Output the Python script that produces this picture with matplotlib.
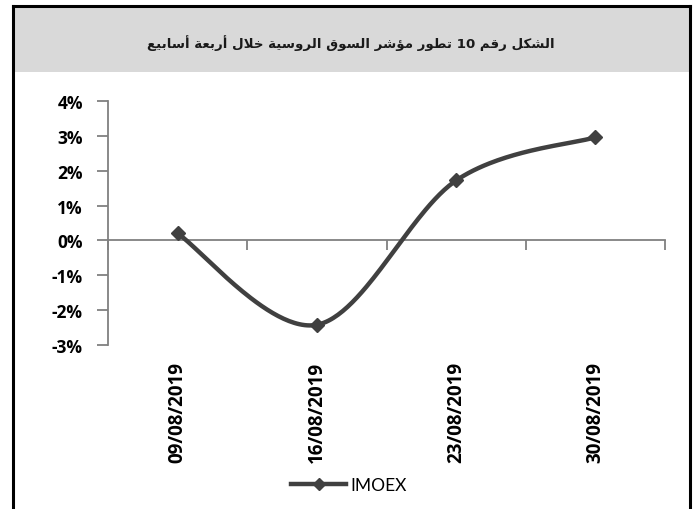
import numpy as np
import matplotlib
matplotlib.use("Agg")
import matplotlib.pyplot as plt
from matplotlib.lines import Line2D
from matplotlib.patches import Rectangle

# ---------------- data ----------------
dates = ["09/08/2019", "16/08/2019", "23/08/2019", "30/08/2019"]
imoex = [0.2, -2.42, 1.72, 2.96]          # percent
yticks = [-3, -2, -1, 0, 1, 2, 3, 4]
series_name = "IMOEX"
title = "الشكل رقم 10 تطور مؤشر السوق الروسية خلال أربعة أسابيع"

# ---------------- simple Arabic shaping ----------------
FORMS = {  # isolated, final, initial, medial
    'ا': ('\uFE8D', '\uFE8E', None, None),
    'أ': ('\uFE83', '\uFE84', None, None),
    'ب': ('\uFE8F', '\uFE90', '\uFE91', '\uFE92'),
    'ة': ('\uFE93', '\uFE94', None, None),
    'ت': ('\uFE95', '\uFE96', '\uFE97', '\uFE98'),
    'خ': ('\uFEA5', '\uFEA6', '\uFEA7', '\uFEA8'),
    'ر': ('\uFEAD', '\uFEAE', None, None),
    'س': ('\uFEB1', '\uFEB2', '\uFEB3', '\uFEB4'),
    'ش': ('\uFEB5', '\uFEB6', '\uFEB7', '\uFEB8'),
    'ط': ('\uFEC1', '\uFEC2', '\uFEC3', '\uFEC4'),
    'ع': ('\uFEC9', '\uFECA', '\uFECB', '\uFECC'),
    'ق': ('\uFED5', '\uFED6', '\uFED7', '\uFED8'),
    'ك': ('\uFED9', '\uFEDA', '\uFEDB', '\uFEDC'),
    'ل': ('\uFEDD', '\uFEDE', '\uFEDF', '\uFEE0'),
    'م': ('\uFEE1', '\uFEE2', '\uFEE3', '\uFEE4'),
    'و': ('\uFEED', '\uFEEE', None, None),
    'ؤ': ('\uFE85', '\uFE86', None, None),
    'ي': ('\uFEF1', '\uFEF2', '\uFEF3', '\uFEF4'),
}
LAMALEF = {'ا': ('\uFEFB', '\uFEFC'), 'أ': ('\uFEF7', '\uFEF8')}


def shape_word(w):
    units = []
    i = 0
    while i < len(w):
        if w[i] == 'ل' and i + 1 < len(w) and w[i + 1] in LAMALEF:
            units.append(('LA', w[i + 1]))
            i += 2
        else:
            units.append(('C', w[i]))
            i += 1

    def joins_next(u):
        if u[0] == 'LA':
            return False
        f = FORMS.get(u[1])
        return f is not None and f[2] is not None

    def joins_prev(u):
        return u[0] == 'LA' or u[1] in FORMS

    out = []
    for k, u in enumerate(units):
        prev_j = k > 0 and joins_next(units[k - 1]) and joins_prev(u)
        next_j = k + 1 < len(units) and joins_next(u) and joins_prev(units[k + 1])
        if u[0] == 'LA':
            out.append(LAMALEF[u[1]][1 if prev_j else 0])
            continue
        f = FORMS.get(u[1])
        if f is None:
            out.append(u[1])
            continue
        if prev_j and next_j:
            out.append(f[3])
        elif prev_j:
            out.append(f[1])
        elif next_j:
            out.append(f[2])
        else:
            out.append(f[0])
    return ''.join(out)


def visual(s):
    words = s.split(' ')
    res = []
    for w in reversed(words):
        if w.isdigit():
            res.append(w)
        else:
            res.append(shape_word(w)[::-1])
    return ' '.join(res)


# ---------------- figure ----------------
W, H = 696, 510
fig = plt.figure(figsize=(W / 100, H / 100), dpi=100)

def fx(px):
    return px / W

def fy(py):
    return 1 - py / H

fig.patches.append(Rectangle((fx(14), fy(73)), fx(676), fy(8) - fy(73),
                             transform=fig.transFigure, facecolor="#D9D9D9",
                             edgecolor="none", zorder=0))
for xs_, ys_ in [((13, 13), (7, 512)), ((690, 690), (7, 512)), ((13, 690), (7, 7))]:
    fig.add_artist(Line2D([fx(xs_[0]), fx(xs_[1])], [fy(ys_[0]), fy(ys_[1])],
                          transform=fig.transFigure, color="black", lw=2.2,
                          solid_capstyle="projecting"))

fig.text(fx(351), fy(43), visual(title), ha="center", va="center",
         fontsize=9.6, fontweight="bold", family="DejaVu Sans", color="#1a1a1a")

ax = fig.add_axes([fx(108), fy(346), fx(665) - fx(108), fy(102) - fy(346)])
ax.set_xlim(-0.5, len(dates) - 0.5)
ax.set_ylim(yticks[0], yticks[-1])
ax.patch.set_alpha(0)

axis_col = "#808080"
for s in ["top", "right"]:
    ax.spines[s].set_visible(False)
ax.spines["left"].set_color(axis_col)
ax.spines["left"].set_linewidth(1.3)
ax.spines["bottom"].set_position(("data", 0))
ax.spines["bottom"].set_color(axis_col)
ax.spines["bottom"].set_linewidth(1.3)

ax.set_yticks(yticks)
ax.set_yticklabels([f"{v}%" for v in yticks], fontsize=12.5, fontweight="bold",
                   family="Open Sans")
ax.tick_params(axis="y", direction="out", length=8, width=1.3, color=axis_col,
               pad=10)
bounds = np.arange(len(dates) + 1) - 0.5
ax.set_xticks(bounds)
ax.set_xticklabels([])
ax.tick_params(axis="x", direction="out", length=7, width=1.3, color=axis_col)

xs = np.arange(len(dates))
for xi, lab in zip(xs, dates):
    ax.text(xi, -0.065, lab, transform=ax.get_xaxis_transform(), rotation=90,
            ha="center", va="top", fontsize=13.5, fontweight="bold",
            family="Open Sans")

# smoothed line (Excel-like Catmull-Rom Bezier computed in display space)
fig.canvas.draw()
pts = ax.transData.transform(np.column_stack([xs, imoex]))
P = np.vstack([pts[0], pts, pts[-1]])
curve = []
t = np.linspace(0, 1, 60)[:, None]
for i in range(1, len(P) - 2):
    p0, p1, p2, p3 = P[i - 1], P[i], P[i + 1], P[i + 2]
    c1 = p1 + (p2 - p0) / 6
    c2 = p2 - (p3 - p1) / 6
    seg = ((1 - t) ** 3) * p1 + 3 * ((1 - t) ** 2) * t * c1 + 3 * (1 - t) * t ** 2 * c2 + t ** 3 * p2
    curve.append(seg)
curve = np.vstack(curve)
cd = ax.transData.inverted().transform(curve)

line_col = "#404040"
ax.plot(cd[:, 0], cd[:, 1], color=line_col, lw=3.2, solid_capstyle="round", zorder=3)
ax.plot(xs, imoex, linestyle="none", marker="D", markersize=7.5, color=line_col, zorder=4)

handle = Line2D([], [], color=line_col, lw=3.2, marker="D", markersize=6)
fig.legend([handle], [series_name], loc="center", bbox_to_anchor=(fx(349), fy(486)),
           frameon=False, handlelength=3.2, handletextpad=0.25,
           prop={"family": "Lato", "size": 12.5})

fig.savefig("out.png", dpi=100)
